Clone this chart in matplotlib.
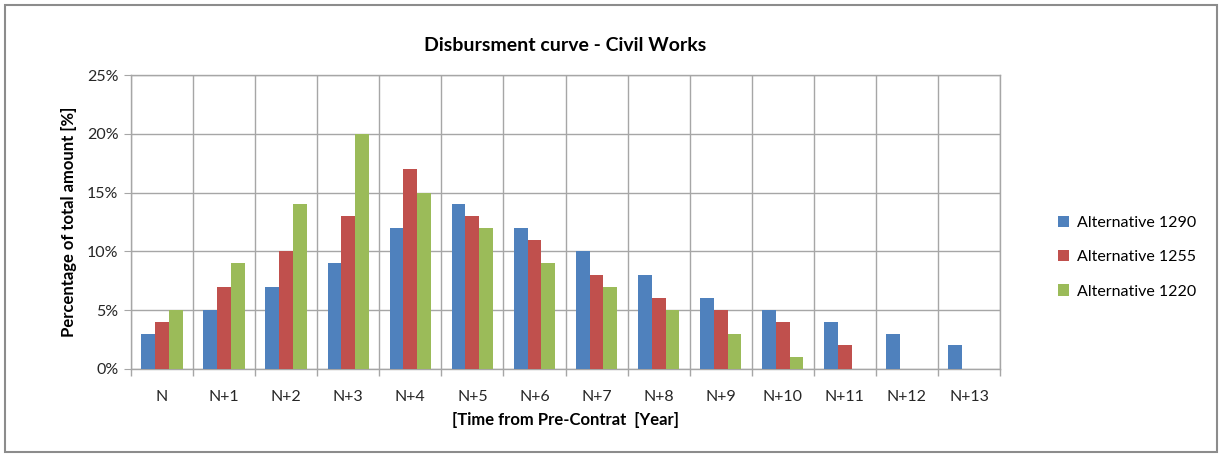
import numpy as np
import matplotlib
matplotlib.use("Agg")
import matplotlib.pyplot as plt
from matplotlib.patches import Rectangle
from matplotlib.ticker import FixedLocator, FuncFormatter

# ---- data ----
years = ["N", "N+1", "N+2", "N+3", "N+4", "N+5", "N+6",
         "N+7", "N+8", "N+9", "N+10", "N+11", "N+12", "N+13"]
alt_1290 = [3, 5, 7, 9, 12, 14, 12, 10, 8, 6, 5, 4, 3, 2]
alt_1255 = [4, 7, 10, 13, 17, 13, 11, 8, 6, 5, 4, 2, 0, 0]
alt_1220 = [5, 9, 14, 20, 15, 12, 9, 7, 5, 3, 1, 0, 0, 0]

series = [
    ("Alternative 1290", alt_1290, "#4F81BD"),
    ("Alternative 1255", alt_1255, "#C0504D"),
    ("Alternative 1220", alt_1220, "#9BBB59"),
]

plt.rcParams["font.family"] = ["Lato", "DejaVu Sans"]
GRID = "#a6a6a6"

fig = plt.figure(figsize=(12.22, 4.57), dpi=100)
fig.patches.append(Rectangle((0.004, 0.011), 0.992, 0.978, transform=fig.transFigure,
                             fill=False, edgecolor="#8c8c8c", linewidth=1.5))

ax = fig.add_axes([131 / 1222, 1 - 369 / 457, (1000 - 131) / 1222, (369 - 75) / 457])

x = np.arange(len(years))
width = 1 / 4.5
for i, (name, vals, color) in enumerate(series):
    ax.bar(x + (i - 1) * width, vals, width, color=color, label=name, zorder=3)

ax.set_xlim(-0.5, len(years) - 0.5)
ax.set_ylim(0, 25)

# category labels at centres, tick marks and grid at boundaries
ax.set_xticks(x)
ax.set_xticklabels(years, fontsize=11.5, color="#262626")
ax.tick_params(axis="x", which="major", length=0, pad=15)
ax.xaxis.set_minor_locator(FixedLocator(np.arange(-0.5, len(years), 1)))
ax.tick_params(axis="x", which="minor", length=5, color=GRID, width=1)
ax.grid(axis="x", which="minor", color=GRID, linewidth=1, zorder=0)

ax.set_yticks(np.arange(0, 26, 5))
ax.yaxis.set_major_formatter(FuncFormatter(lambda v, p: f"{v:.0f}%"))
ax.tick_params(axis="y", length=5, color=GRID, labelsize=11.5, labelcolor="#262626", pad=4)
ax.grid(axis="y", which="major", color=GRID, linewidth=1, zorder=0)

for s in ax.spines.values():
    s.set_color(GRID)
    s.set_linewidth(1)

ax.set_title("Disbursment curve - Civil Works", fontsize=14, fontweight="bold", pad=17)
ax.set_xlabel("[Time from Pre-Contrat  [Year]", fontsize=12, fontweight="bold", labelpad=6)
ax.set_ylabel("Percentage of total amount [%]", fontsize=12, fontweight="bold", labelpad=7)

ax.legend(loc="center left", bbox_to_anchor=(1.05, 0.38), frameon=False, fontsize=11.5,
          handlelength=0.7, handleheight=0.7, handletextpad=0.5, labelspacing=1.25)

fig.savefig("out.png", dpi=100)
